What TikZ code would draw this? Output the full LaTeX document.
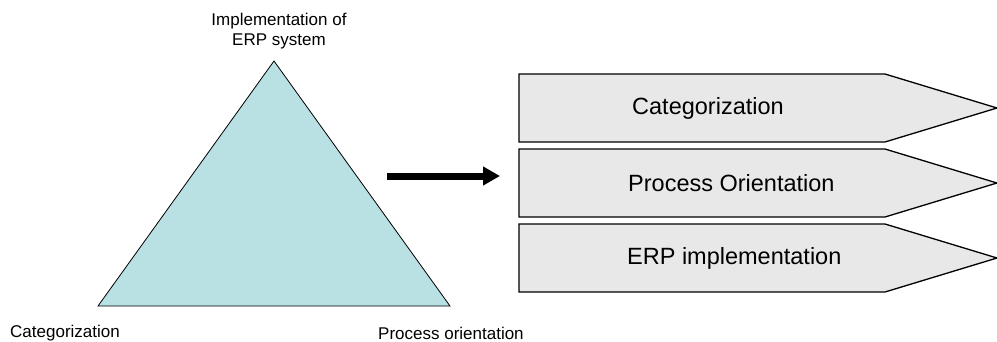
\documentclass[tikz,border=0pt]{standalone}
\usepackage{fontspec}
\setmainfont{Liberation Sans}
\usetikzlibrary{arrows.meta}
\definecolor{trifill}{RGB}{185,224,227}
\definecolor{phasefill}{RGB}{232,232,232}
\tikzset{
  cornerlabel/.style={font=\fontsize{17}{20}\selectfont, inner sep=0pt},
  phase/.style={draw=black, line width=1.3pt, fill=phasefill, line join=miter},
  phaselabel/.style={font=\fontsize{23.5}{28}\selectfont, anchor=west, inner sep=0pt},
}
\begin{document}
\begin{tikzpicture}[x=1pt,y=-1pt]
\useasboundingbox (0,0) rectangle (997,341);

% triangle
\coordinate (apex) at (274,61);
\coordinate (bl) at (98,306);
\coordinate (br) at (450,306);
\draw [fill=trifill, line width=0.8pt] (apex) -- (bl) -- (br) -- cycle;

\node [cornerlabel, align=center] (erp) at (279,31) {Implementation of\\ERP system};
\node [cornerlabel, anchor=west] (cat) at (10,333) {Categorization};
\node [cornerlabel, anchor=west] (proc) at (378,333) {Process orientation};

% arrow
\coordinate (from) at (387,176);
\coordinate (to) at (500,176);
\draw [line width=7pt, -{Triangle[length=17pt,width=18pt]}] (from) -- (to);

% phases
\draw [phase] (519,74) -- (885,74) -- (997,108) -- (885,142) -- (519,142) -- cycle;
\draw [phase] (519,149) -- (885,149) -- (997,183) -- (885,217) -- (519,217) -- cycle;
\draw [phase] (519,224) -- (885,224) -- (997,258) -- (885,292) -- (519,292) -- cycle;

\node [phaselabel] (p1) at (632,108) {Categorization};
\node [phaselabel] (p2) at (628,183) {Process Orientation};
\node [phaselabel] (p3) at (627,258) {ERP implementation};
\end{tikzpicture}
\end{document}
